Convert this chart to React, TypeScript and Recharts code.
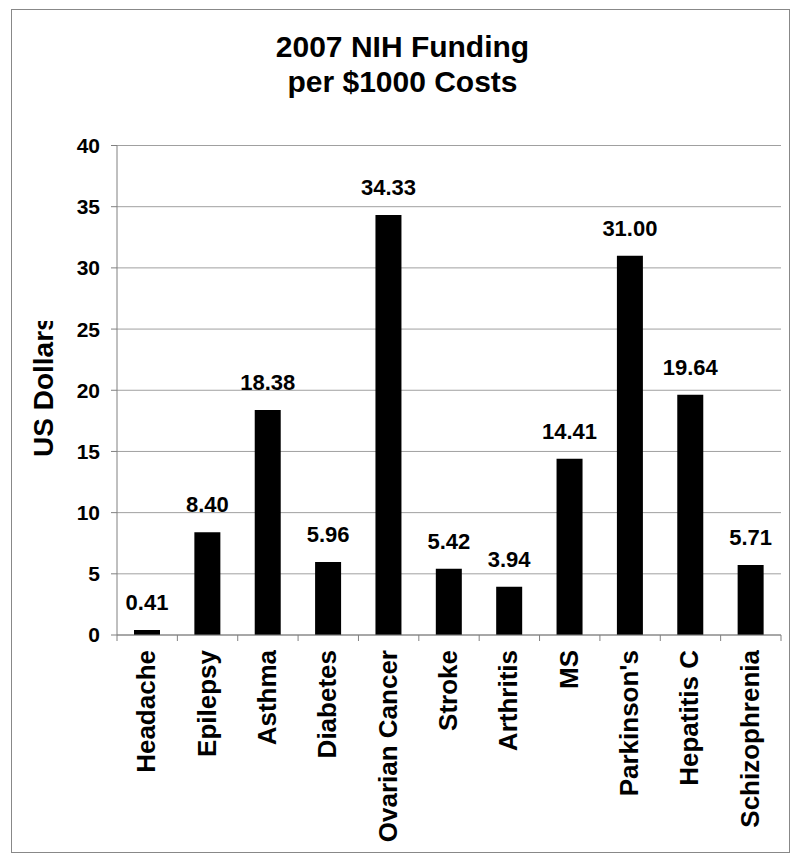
import { BarChart, Bar, XAxis, YAxis, CartesianGrid, LabelList } from 'recharts'

const categories = [
  'Headache',
  'Epilepsy',
  'Asthma',
  'Diabetes',
  'Ovarian Cancer',
  'Stroke',
  'Arthritis',
  'MS',
  "Parkinson's",
  'Hepatitis C',
  'Schizophrenia'
]
const funding = [0.41, 8.4, 18.38, 5.96, 34.33, 5.42, 3.94, 14.41, 31.0, 19.64, 5.71]
const yTicks = [0, 5, 10, 15, 20, 25, 30, 35, 40]
const titleLines = ['2007 NIH Funding', 'per $1000 Costs']
const yLabel = 'US Dollars'

const data = categories.map((name, i) => ({ name, value: funding[i] }))

const FONT = '"Liberation Sans", Arial, sans-serif'

// category label rotated, plus tick marks on the band edges
const CategoryTick = (props: any) => {
  const { x, y, payload, index, visibleTicksCount } = props
  const half = payload?.offset ?? 30.2
  const top = y - 8
  const last = index === (visibleTicksCount ?? categories.length) - 1
  return (
    <g>
      <line x1={x - half} y1={top} x2={x - half} y2={top + 6} stroke="#808080" />
      {last && <line x1={x + half} y1={top} x2={x + half} y2={top + 6} stroke="#808080" />}
      <text
        transform={`translate(${x + 8},${top + 15}) rotate(-90)`}
        textAnchor="end"
        fontFamily={FONT}
        fontWeight="bold"
        fontSize={26}
        fill="#000"
      >
        {payload.value}
      </text>
    </g>
  )
}

export default function App() {
  return (
    <div style={{ position: 'relative', width: 784, height: 850 }}>
      <BarChart
        width={784}
        height={850}
        data={data}
        margin={{ top: 137.5, right: 11, left: 0, bottom: 0 }}
        barCategoryGap={0}
      >
        <CartesianGrid vertical={false} stroke="#a0a0a0" />
        <XAxis
          dataKey="name"
          height={223}
          interval={0}
          stroke="#808080"
          tickLine={false}
          tick={<CategoryTick />}
        />
        <YAxis
          domain={[0, 40]}
          ticks={yTicks}
          width={109}
          stroke="#808080"
          tickSize={6}
          tickMargin={11}
          tick={{ fontFamily: FONT, fontWeight: 'bold', fontSize: 21, fill: '#000' }}
        />
        <Bar dataKey="value" fill="#000" barSize={26} isAnimationActive={false}>
          <LabelList
            dataKey="value"
            position="top"
            offset={20}
            formatter={(v: any) => Number(v).toFixed(2)}
            style={{ fontFamily: FONT, fontWeight: 'bold', fontSize: 22, fill: '#000' }}
          />
        </Bar>
      </BarChart>
      <svg
        width={784}
        height={850}
        style={{ position: 'absolute', left: 0, top: 0, pointerEvents: 'none' }}
      >
        <defs>
          <clipPath id="ylabel-clip">
            <rect x={0} y={313} width={100} height={300} />
          </clipPath>
        </defs>
        <rect x={3.5} y={1.5} width={778} height={843} fill="none" stroke="#888" />
        {titleLines.map((line, i) => (
          <text
            key={line}
            x={394.5}
            y={49 + i * 35}
            textAnchor="middle"
            fontFamily={FONT}
            fontWeight="bold"
            fontSize={30}
            fill="#000"
          >
            {line}
          </text>
        ))}
        <g clipPath="url(#ylabel-clip)">
          <text
            transform="translate(45,449) rotate(-90)"
            textAnchor="start"
            fontFamily={FONT}
            fontWeight="bold"
            fontSize={28}
            fill="#000"
          >
            {yLabel}
          </text>
        </g>
      </svg>
    </div>
  )
}
